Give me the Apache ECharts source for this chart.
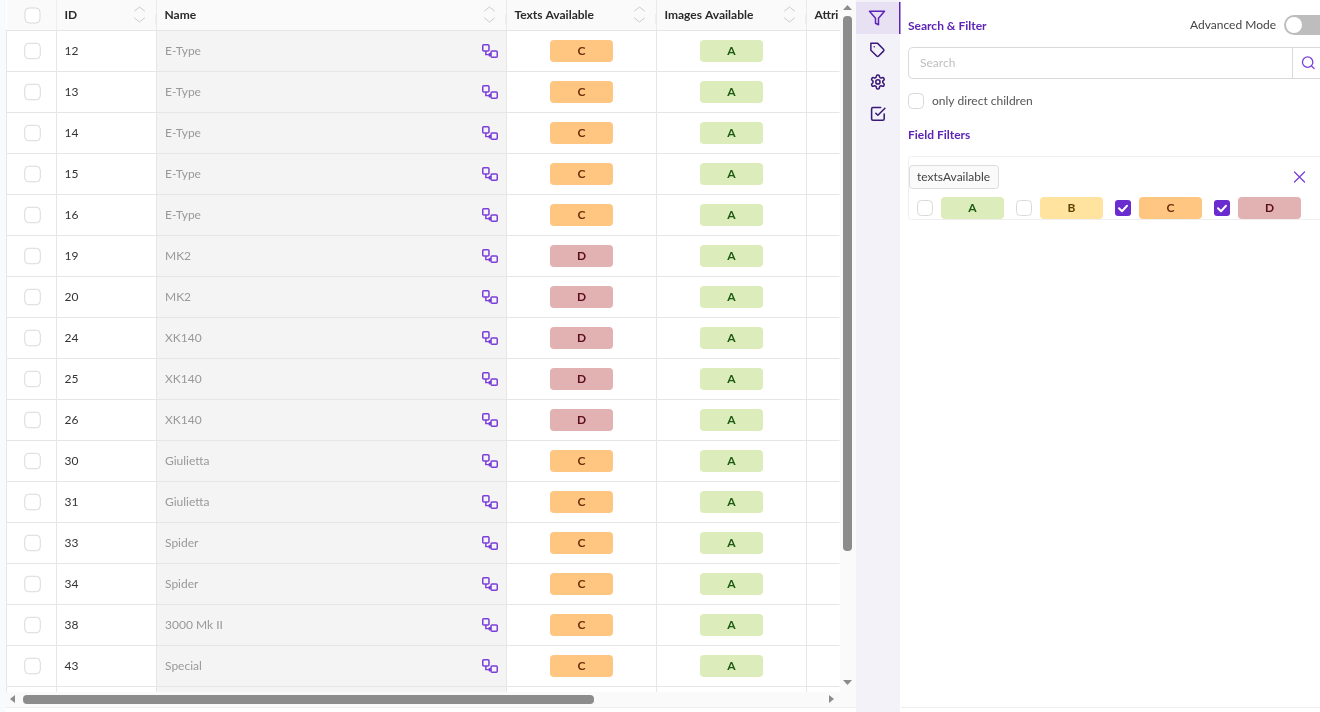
<!DOCTYPE html>
<html>
<head>
<meta charset="utf-8">
<title>Search & Filter table</title>
<script src="https://cdn.jsdelivr.net/npm/echarts@6/dist/echarts.min.js"></script>
<style>
  html, body { margin: 0; padding: 0; background: #fff; }
  #table { width: 1320px; height: 712px; }
</style>
</head>
<body>
<div id="table"></div>
<script>
// table data
const rowIds = ["12", "13", "14", "15", "16", "19", "20", "24", "25", "26", "30", "31", "33", "34", "38", "43"];
const names = ["E-Type", "E-Type", "E-Type", "E-Type", "E-Type", "MK2", "MK2", "XK140", "XK140", "XK140", "Giulietta", "Giulietta", "Spider", "Spider", "3000 Mk II", "Special"];
const textsAvailable = ["C", "C", "C", "C", "C", "D", "D", "D", "D", "D", "C", "C", "C", "C", "C", "C"];
const imagesAvailable = ["A", "A", "A", "A", "A", "A", "A", "A", "A", "A", "A", "A", "A", "A", "A", "A"];
const headers = ["ID", "Name", "Texts Available", "Images Available", "Attri"];
const grades = ["A", "B", "C", "D"];
const gradeChecked = [false, false, true, true];

const PURPLE = "#5c25b5";
const VIOLET = "#7a3fd9";
const FONT = "Lato";

const gradeStyle = {
  A: { bg: "#dcedbb", fg: "#1c5a12" },
  B: { bg: "#ffe39e", fg: "#5a4508" },
  C: { bg: "#ffc682", fg: "#6b2f0b" },
  D: { bg: "#e2b1b1", fg: "#5b0f1a" }
};

// x axis runs in table pixels, these are the column layout constants
const columnEdges = [50, 150, 500, 650, 800];
const headerX = [58, 158, 508, 658, 808];
const sortX = [133, 483, 633, 783];
const checkX = 26, iconX = 483.5, textsX = 575, imagesX = 725, nameX = 158;

const checkPath = "M4 8.2l3 3 5-5.4";
const badgeShape = "path://M4 0h55a4 4 0 0 1 4 4v14a4 4 0 0 1-4 4H4a4 4 0 0 1-4-4V4a4 4 0 0 1 4-4z";
const linkIcon = "path://M2 1h4a1 1 0 0 1 1 1v4a1 1 0 0 1-1 1H2a1 1 0 0 1-1-1V2a1 1 0 0 1 1-1zM10 7h4a1 1 0 0 1 1 1v4a1 1 0 0 1-1 1h-4a1 1 0 0 1-1-1V8a1 1 0 0 1 1-1zM4 7v3.5h4.500M7 9l1.500 1.500L7 12";

function badgeSeries(xPos, values) {
  return {
    type: "scatter",
    symbol: badgeShape,
    symbolSize: [63, 22],
    silent: true,
    z: 4,
    data: values.map((g, i) => ({
      value: [xPos, rowIds[i]],
      itemStyle: { color: gradeStyle[g].bg, opacity: 1 },
      label: {
        show: true, position: "inside", formatter: g,
        color: gradeStyle[g].fg, fontFamily: FONT, fontWeight: "bold", fontSize: 12
      }
    }))
  };
}

function rect(x, y, w, h, fill, extra) {
  const r = extra && extra.r;
  return {
    type: "rect", z: 20, silent: true,
    shape: { x: x, y: y, width: w, height: h, r: r || 0 },
    style: { fill: fill, stroke: (extra && extra.stroke) || null, lineWidth: 1 }
  };
}

function text(str, x, y, font, fill, align) {
  return {
    type: "text", z: 22, silent: true,
    style: { text: str, x: x, y: y, font: font, fill: fill, align: align || "left", verticalAlign: "middle" }
  };
}

// graphic has no plain path type, so each icon path is registered as a shape
let iconCount = 0;
function icon(path, x, y, scale, stroke, width) {
  const shapeName = "icon" + iconCount++;
  echarts.graphic.registerShape(shapeName, echarts.graphic.extendPath(path, {}));
  return {
    type: shapeName, z: 22, silent: true, x: x, y: y, scaleX: scale, scaleY: scale,
    style: { fill: null, stroke: stroke, lineWidth: width, lineCap: "round", lineJoin: "round" }
  };
}

function checkbox(x, y, checked) {
  if (checked) {
    return [
      rect(x, y, 16, 16, "#6a2ccf", { r: 3 }),
      Object.assign(icon(checkPath, x, y, 1, "#ffffff", 2), { z: 23 })
    ];
  }
  return [rect(x + 0.5, y + 0.5, 15, 15, "#ffffff", { r: 4, stroke: "#d9d9d9" })];
}

function buildChrome() {
  const els = [];
  const bold12 = "bold 12px " + FONT;
  const reg12 = "12px " + FONT;

  // table header
  els.push(rect(7, 0, 833, 30, "#fafafa"));
  els.push(rect(6, 30, 834, 1, "#e6e6e6"));
  els.push(rect(56, 0, 1, 30, "#eeeeee"));
  els.push(...checkbox(24.5, 7.5, false));
  headers.forEach((h, i) => {
    els.push(text(h, 6.5 + headerX[i], 15, bold12, "#2b2b2b"));
  });
  [155, 505, 655, 805].forEach(x => {
    els.push(rect(x, 14, 1, 10, "#eeeeee"));
    els.push(rect(x + 1, 0, 1, 30, "#eaeaea"));
  });
  sortX.forEach(x => {
    const cx = 6.5 + x;
    els.push(icon("M-5 3L0-1 5 3", cx, 8, 1, "#cccccc", 1));
    els.push(icon("M-5-2L0 2 5-2", cx, 20, 1, "#cccccc", 1));
  });
  els.push(rect(0, 0, 6, 712, "#f7fbfc"));

  // start of the next row, cut off by the scrollbar
  els.push(rect(157, 687, 349, 5, "#f4f4f4"));
  [6, 56, 156, 506, 656, 806].forEach(x => {
    els.push(rect(x, 687, 1, 5, "#e6e6e6"));
  });

  // scrollbars
  els.push(rect(840, 0, 16, 712, "#fafafa"));
  els.push(rect(6, 692, 850, 15, "#fafafa"));
  els.push(rect(6, 707, 850, 5, "#ffffff"));
  els.push(rect(6, 707, 850, 1, "#eeeeee"));
  els.push(rect(843, 16, 9, 535, "#8c8c8c", { r: 4 }));
  els.push(rect(23, 695, 571, 9, "#8c8c8c", { r: 4 }));
  const arrow = { type: "polygon", z: 22, silent: true, style: { fill: "#8c8c8c" } };
  els.push(Object.assign({}, arrow, { shape: { points: [[843, 10], [852, 10], [847.5, 5]] } }));
  els.push(Object.assign({}, arrow, { shape: { points: [[843, 680], [852, 680], [847.5, 685]] } }));
  els.push(Object.assign({}, arrow, { shape: { points: [[15, 695], [15, 703], [10, 699]] } }));
  els.push(Object.assign({}, arrow, { shape: { points: [[829, 695], [829, 703], [834, 699]] } }));

  // side rail
  els.push(rect(856, 0, 44, 712, "#f3f2f9"));
  els.push(rect(856, 2, 43, 32, "#e8e0f3"));
  els.push(rect(899, 2, 1.5, 32, PURPLE));
  els.push(icon("M22 3H2l8 9.460V19l4 2v-8.540L22 3z", 868, 9, 0.75, PURPLE, 2));
  els.push(icon("M20.590 13.410l-7.170 7.170a2 2 0 0 1-2.830 0L2 12V2h10l8.590 8.590a2 2 0 0 1 0 2.820zM7 7h.010", 869.500, 42, 0.68, "#3a1a78", 2.2));
  els.push(icon("M12.220 2h-.440a2 2 0 0 0-2 2v.180a2 2 0 0 1-1 1.730l-.430.250a2 2 0 0 1-2 0l-.150-.080a2 2 0 0 0-2.730.730l-.220.380a2 2 0 0 0 .730 2.730l.150.100a2 2 0 0 1 1 1.720v.510a2 2 0 0 1-1 1.740l-.150.090a2 2 0 0 0-.730 2.730l.220.380a2 2 0 0 0 2.730.730l.150-.080a2 2 0 0 1 2 0l.430.250a2 2 0 0 1 1 1.730V20a2 2 0 0 0 2 2h.440a2 2 0 0 0 2-2v-.180a2 2 0 0 1 1-1.730l.430-.250a2 2 0 0 1 2 0l.150.080a2 2 0 0 0 2.730-.730l.220-.390a2 2 0 0 0-.730-2.730l-.150-.080a2 2 0 0 1-1-1.740v-.500a2 2 0 0 1 1-1.740l.150-.090a2 2 0 0 0 .730-2.730l-.220-.380a2 2 0 0 0-2.730-.730l-.150.080a2 2 0 0 1-2 0l-.430-.250a2 2 0 0 1-1-1.730V4a2 2 0 0 0-2-2zM15 12a3 3 0 1 1-6 0 3 3 0 0 1 6 0z", 869.500, 73.500, 0.70, "#3a1a78", 2.2));
  els.push(icon("M9 11l3 3L22 4M21 12v7a2 2 0 0 1-2 2H5a2 2 0 0 1-2-2V5a2 2 0 0 1 2-2h11", 869.500, 105.500, 0.70, "#3a1a78", 2.2));

  // search panel
  els.push(rect(901, 707, 419, 1, "#eeeeee"));
  els.push(text("Search & Filter", 908, 26, bold12, PURPLE));
  els.push(text("Advanced Mode", 1276, 25, reg12, "#444444", "right"));
  els.push(rect(1284, 15, 50, 20, "#bdbdbd", { r: 10 }));
  els.push({ type: "circle", z: 23, silent: true, shape: { cx: 1294, cy: 25, r: 8 }, style: { fill: "#ffffff" } });
  els.push(rect(908.5, 47.5, 420, 31, "#ffffff", { r: 4, stroke: "#d9d9d9" }));
  els.push(rect(1292, 48, 1, 30, "#d9d9d9"));
  els.push(text("Search", 920, 63, reg12, "#bfbfbf"));
  els.push(icon("M11 19a8 8 0 1 0 0-16 8 8 0 0 0 0 16zM21 21l-4.350-4.350", 1300.500, 55, 0.65, VIOLET, 2));
  els.push(...checkbox(908, 93, false));
  els.push(text("only direct children", 932, 101, reg12, "#555555"));
  els.push(text("Field Filters", 908, 135, bold12, PURPLE));

  // field filter card
  els.push(rect(908.5, 156.5, 420, 63, "#ffffff", { r: 3, stroke: "#eeeeee" }));
  els.push(rect(909.5, 165.5, 89, 23, "#fafafa", { r: 3, stroke: "#dddddd" }));
  els.push(text("textsAvailable", 917, 177, reg12, "#444444"));
  els.push(icon("M0 0L10 10M10 0L0 10", 1294.500, 172, 1, VIOLET, 1.3));
  grades.forEach((g, i) => {
    const x0 = 917 + i * 99;
    els.push(...checkbox(x0, 200, gradeChecked[i]));
    els.push(rect(x0 + 24, 197, 63, 22, gradeStyle[g].bg, { r: 4 }));
    els.push(text(g, x0 + 55.5, 208, bold12, gradeStyle[g].fg, "center"));
  });
  return els;
}

const option = {
  animation: false,
  backgroundColor: "#ffffff",
  grid: { left: 6.5, top: 30.5, width: 833, height: 656 },
  xAxis: { type: "value", min: 0, max: 833, show: false },
  yAxis: {
    type: "category",
    inverse: true,
    z: 3,
    data: rowIds,
    axisLine: { show: false },
    axisTick: { show: false },
    splitLine: { show: true, interval: 0, lineStyle: { color: "#e6e6e6", width: 1 } },
    axisLabel: {
      inside: true, margin: 58, interval: 0,
      color: "#333333", fontFamily: FONT, fontSize: 12
    }
  },
  series: [
    {
      // name column shading and column separators
      type: "scatter",
      data: [],
      silent: true,
      z: 1,
      markArea: {
        silent: true,
        z: 1,
        itemStyle: { color: "#f4f4f4", opacity: 1 },
        data: [[{ xAxis: columnEdges[1] }, { xAxis: columnEdges[2] }]]
      },
      markLine: {
        silent: true,
        z: 2,
        symbol: "none",
        label: { show: false },
        lineStyle: { color: "#e6e6e6", width: 1, type: "solid", opacity: 1 },
        data: [0].concat(columnEdges).map(x => ({ xAxis: x }))
      }
    },
    {
      type: "scatter",
      symbol: "roundRect",
      symbolSize: 15.5,
      silent: true,
      z: 4,
      itemStyle: { color: "#ffffff", borderColor: "#d9d9d9", borderWidth: 1, opacity: 1 },
      data: rowIds.map(id => [checkX, id])
    },
    {
      type: "scatter",
      symbolSize: 1,
      silent: true,
      z: 4,
      itemStyle: { color: "transparent", opacity: 1 },
      label: {
        show: true, position: "right", distance: 0,
        formatter: p => p.value[2],
        color: "#999999", fontFamily: FONT, fontSize: 12
      },
      data: rowIds.map((id, i) => [nameX, id, names[i]])
    },
    {
      type: "scatter",
      symbol: linkIcon,
      symbolSize: [14.5, 12.5],
      silent: true,
      z: 4,
      itemStyle: { color: "none", borderColor: VIOLET, borderWidth: 1.4, opacity: 1 },
      data: rowIds.map(id => [iconX, id])
    },
    badgeSeries(textsX, textsAvailable),
    badgeSeries(imagesX, imagesAvailable)
  ],
  graphic: { elements: buildChrome() }
};

const chart = echarts.init(document.getElementById("table"));
chart.setOption(option);
</script>
</body>
</html>
